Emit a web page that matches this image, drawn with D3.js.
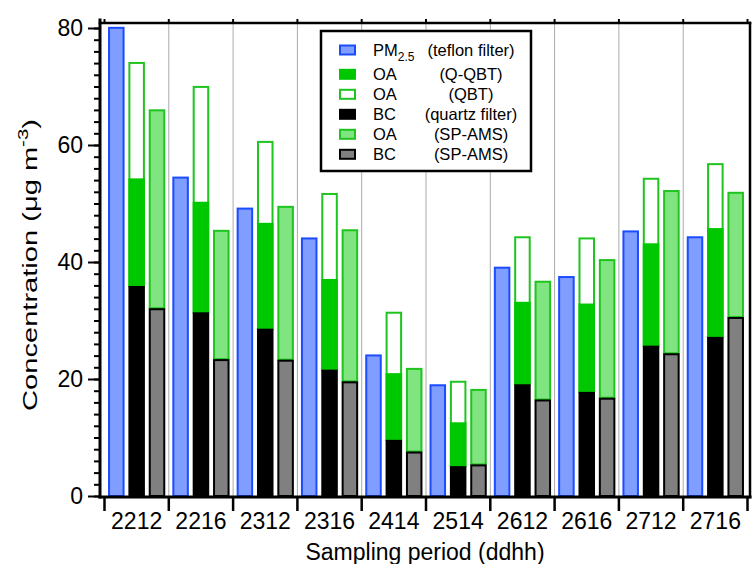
<!DOCTYPE html>
<html>
<head>
<meta charset="utf-8">
<script src="https://cdn.jsdelivr.net/npm/d3@7"></script>
<style>
  html, body { margin: 0; padding: 0; background: #fff; }
  svg { display: block; font-family: "Liberation Sans", Arial, sans-serif; }
</style>
</head>
<body>
<svg id="chart" width="754" height="564"></svg>
<script>
// ---- data ----
const categories = ["2212","2216","2312","2316","2414","2514","2612","2616","2712","2716"];
const pm25     = [80.2, 54.6, 49.3, 44.2, 24.2, 19.1, 39.2, 37.6, 45.4, 44.4];
const bcQuartz = [35.9, 31.4, 28.6, 21.6,  9.6,  5.1, 19.1, 17.8, 25.7, 27.2];
const oaQQBT   = [18.4, 18.9, 18.1, 15.5, 11.4,  7.5, 14.1, 15.1, 17.5, 18.6];
const oaQBT    = [38.3, 38.7, 32.1, 30.2, 21.9, 14.6, 25.3, 26.4, 28.7, 29.7];
const bcAMS    = [32.1, 23.4, 23.3, 19.6,  7.6,  5.4, 16.5, 16.8, 24.4, 30.6];
const oaAMS    = [34.0, 22.1, 26.3, 26.0, 14.3, 12.9, 20.3, 23.7, 27.9, 21.4];
const yMajorTicks = [0, 20, 40, 60, 80];
const yMinorTicks = d3.range(0, 81, 2);
const legendNames   = ["PM", "OA", "OA", "BC", "OA", "BC"];
const legendSources = ["(teflon filter)", "(Q-QBT)", "(QBT)", "(quartz filter)", "(SP-AMS)", "(SP-AMS)"];

(function () {
// ---- colours ----
const C = {
  blueFill: "#7f9eff", blueStroke: "#1c4cff",
  green: "#00c800", greenStroke: "#1fc41f",
  lightGreen: "#80e480", gray: "#808080", black: "#000"
};

const svg = d3.select("#chart");
const pL = 100, pR = 750, pT = 23, pB = 497;

const x = d3.scaleBand().domain(categories).range([104.5, 747.5]).paddingInner(0).paddingOuter(0);
const y = d3.scaleLinear().domain([0, 80]).range([496, 28]);
const bw = x.bandwidth();
const step = bw * 0.3165;
const barW = bw * 0.257;

// grid lines at group boundaries
const bounds = categories.map(c => x(c)).concat([x(categories[categories.length - 1]) + bw]);
svg.append("g").selectAll("line").data(bounds.slice(1, -1)).join("line")
  .attr("x1", d => d).attr("x2", d => d)
  .attr("y1", pT).attr("y2", pB)
  .attr("stroke", "#aaaaaa").attr("stroke-width", 1);

// bars
const g = svg.append("g");
const sw = 2;
function bar(cx, v0, v1, fill, stroke) {
  const yt = y(v1), yb = y(v0);
  g.append("rect")
    .attr("x", cx - barW / 2 + sw / 2)
    .attr("y", yt + sw / 2)
    .attr("width", barW - sw)
    .attr("height", Math.max(0, yb - yt - sw / 2))
    .attr("fill", fill).attr("stroke", stroke).attr("stroke-width", sw);
}
categories.forEach((c, i) => {
  const cx = x(c) + bw / 2;
  bar(cx - step, 0, pm25[i], C.blueFill, C.blueStroke);
  bar(cx, bcQuartz[i], bcQuartz[i] + oaQBT[i], "#fff", C.greenStroke);
  bar(cx, bcQuartz[i], bcQuartz[i] + oaQQBT[i], C.green, C.green);
  bar(cx, 0, bcQuartz[i], C.black, C.black);
  bar(cx + step, bcAMS[i], bcAMS[i] + oaAMS[i], C.lightGreen, C.greenStroke);
  bar(cx + step, 0, bcAMS[i], C.gray, C.black);
});

// frame
const frame = svg.append("g").attr("stroke", "#000").attr("stroke-linecap", "square");
frame.append("line").attr("x1", pL).attr("x2", pL).attr("y1", 20).attr("y2", pB).attr("stroke-width", 3);
frame.append("line").attr("x1", pL).attr("x2", pR).attr("y1", pB).attr("y2", pB).attr("stroke-width", 3);
frame.append("line").attr("x1", pL).attr("x2", pR).attr("y1", pT).attr("y2", pT).attr("stroke-width", 2.5);
frame.append("line").attr("x1", pR).attr("x2", pR).attr("y1", pT).attr("y2", pB).attr("stroke-width", 2.5);

// top mirror ticks
svg.append("g").selectAll("line").data(bounds).join("line")
  .attr("x1", d => d).attr("x2", d => d).attr("y1", 19).attr("y2", pT)
  .attr("stroke", "#000").attr("stroke-width", 2);

// y axis minor & major
const yMinor = svg.append("g").attr("transform", `translate(${pL},0)`)
  .call(d3.axisLeft(y).tickValues(yMinorTicks).tickSize(6).tickFormat(""));
yMinor.select(".domain").remove();
yMinor.selectAll("line").attr("stroke-width", 2);

const yMajor = svg.append("g").attr("transform", `translate(${pL},0)`)
  .call(d3.axisLeft(y).tickValues(yMajorTicks).tickSize(12).tickPadding(5));
yMajor.select(".domain").remove();
yMajor.selectAll("line").attr("stroke-width", 2);
yMajor.selectAll("text").attr("font-size", 23).attr("fill", "#000")
  .attr("font-family", "Liberation Sans, Arial, sans-serif");

// x axis: boundary ticks + labels
svg.append("g").selectAll("line").data(bounds).join("line")
  .attr("x1", d => d).attr("x2", d => d).attr("y1", pB).attr("y2", 511)
  .attr("stroke", "#000").attr("stroke-width", 2.5);
const xAx = svg.append("g").attr("transform", `translate(0,${pB})`)
  .call(d3.axisBottom(x).tickSize(0).tickPadding(16));
xAx.select(".domain").remove();
xAx.selectAll("text").attr("font-size", 23).attr("fill", "#000")
  .attr("font-family", "Liberation Sans, Arial, sans-serif");

// axis titles
svg.append("text").attr("x", 425).attr("y", 560).attr("text-anchor", "middle")
  .attr("font-size", 23).text("Sampling period (ddhh)");

const yt = svg.append("text").attr("text-anchor", "middle").attr("font-size", 20);
yt.append("tspan").text("Concentration (μg m");
yt.append("tspan").attr("font-size", 14).attr("dy", -9).text("-3");
yt.append("tspan").attr("dy", 9).text(")");
const natural = yt.node().getComputedTextLength();
yt.attr("transform", `translate(37,265) rotate(-90) scale(${292 / natural},1)`);

// legend
const lg = svg.append("g");
lg.append("rect").attr("x", 321).attr("y", 31).attr("width", 210).attr("height", 140)
  .attr("fill", "#fff").attr("stroke", "#000").attr("stroke-width", 2.5);
const swatchStyles = [
  [C.blueFill, C.blueStroke], [C.green, C.green], ["#fff", C.greenStroke],
  [C.black, C.black], [C.lightGreen, C.greenStroke], [C.gray, C.black]
];
legendNames.forEach((n, i) => {
  const ry = i === 0 ? 50 : 74.3 + 20 * (i - 1);
  lg.append("rect").attr("x", 340).attr("y", ry - 4.5).attr("width", 15).attr("height", 9)
    .attr("fill", swatchStyles[i][0]).attr("stroke", swatchStyles[i][1]).attr("stroke-width", 2);
  const t = lg.append("text").attr("x", 373).attr("y", ry + 6).attr("font-size", 16.5);
  t.append("tspan").text(n);
  if (i === 0) t.append("tspan").attr("font-size", 12).attr("dy", 5).text("2.5");
  lg.append("text").attr("x", 471).attr("y", ry + 6).attr("font-size", 16.5)
    .attr("text-anchor", "middle").text(legendSources[i]);
});
})();
</script>
</body>
</html>
